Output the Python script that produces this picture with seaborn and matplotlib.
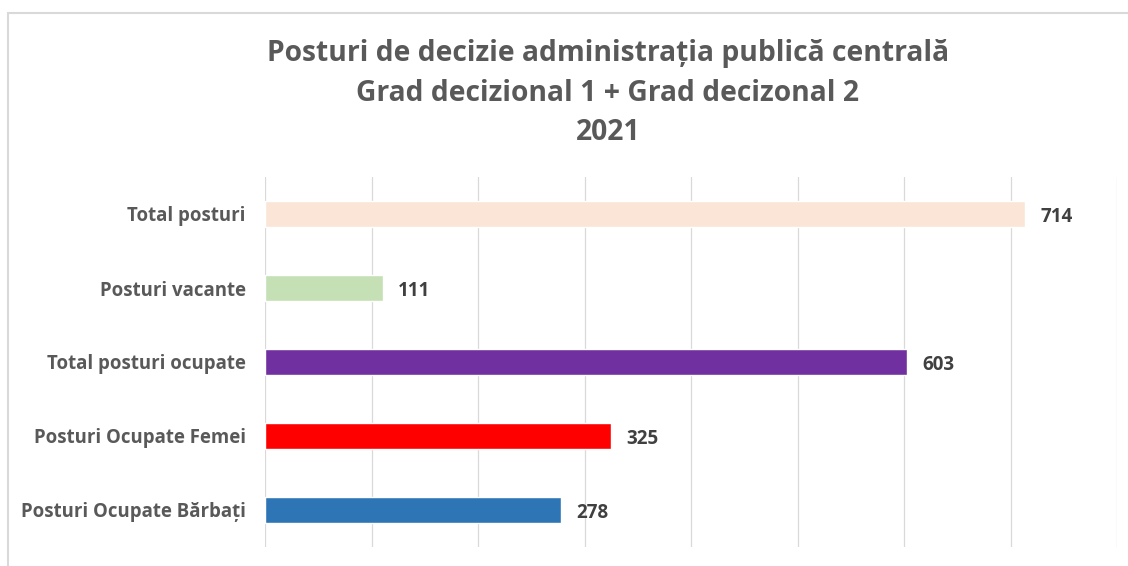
import matplotlib
matplotlib.use("Agg")
import matplotlib.pyplot as plt
import seaborn as sns
import pandas as pd
from matplotlib.patches import Rectangle

# data
categories = ["Total posturi", "Posturi vacante", "Total posturi ocupate",
              "Posturi Ocupate Femei", "Posturi Ocupate Bărbați"]
values = [714, 111, 603, 325, 278]
bar_colors = ["#FBE5D6", "#C5E0B4", "#7030A0", "#FF0000", "#2E75B6"]
title_lines = ["Posturi de decizie administrația publică centrală",
               "Grad decizional 1 + Grad decizonal 2",
               "2021"]

df = pd.DataFrame({"cat": categories, "val": values})

sns.set_style("white")
plt.rcParams['font.family'] = ['Open Sans', 'DejaVu Sans']

fig = plt.figure(figsize=(11.28, 5.66), dpi=100)
ax = fig.add_axes([265 / 1128, 1 - 547 / 566, (1117 - 265) / 1128, (547 - 177) / 566])

sns.barplot(data=df, y="cat", x="val", hue="cat", palette=bar_colors,
            legend=False, width=0.35, orient="h", ax=ax, saturation=1)

ax.set_xlim(0, 800)
ax.set_ylim(4.5, -0.5)
ax.set_xticks(range(0, 801, 100))
ax.xaxis.grid(True, color="#D9D9D9", linewidth=0.9)
ax.set_axisbelow(True)
ax.tick_params(axis="x", labelbottom=False, length=0)
ax.tick_params(axis="y", length=0, pad=14)
for lbl in ax.get_yticklabels():
    lbl.set_fontweight("bold")
    lbl.set_color("#595959")
    lbl.set_fontsize(13.4)
ax.set_xlabel("")
ax.set_ylabel("")
for s in ax.spines.values():
    s.set_visible(False)

# value labels
for i, v in enumerate(values):
    ax.text(v + 14, i, f"{v}", va="center_baseline", ha="left", fontsize=13.5,
            fontweight="bold", color="#404040")

# title
for k, line in enumerate(title_lines):
    fig.text(608 / 1128, 1 - (54 + k * 39.5) / 566, line, ha="center", va="center",
             fontsize=20.3, fontweight="bold", color="#595959")

# chart area border
fig.patches.append(Rectangle((8 / 1128, -0.1), 1.2, 1 - 13 / 566 + 0.1,
                             transform=fig.transFigure, fill=False,
                             edgecolor="#D9D9D9", linewidth=1.5))

fig.savefig("out.png", dpi=100)
